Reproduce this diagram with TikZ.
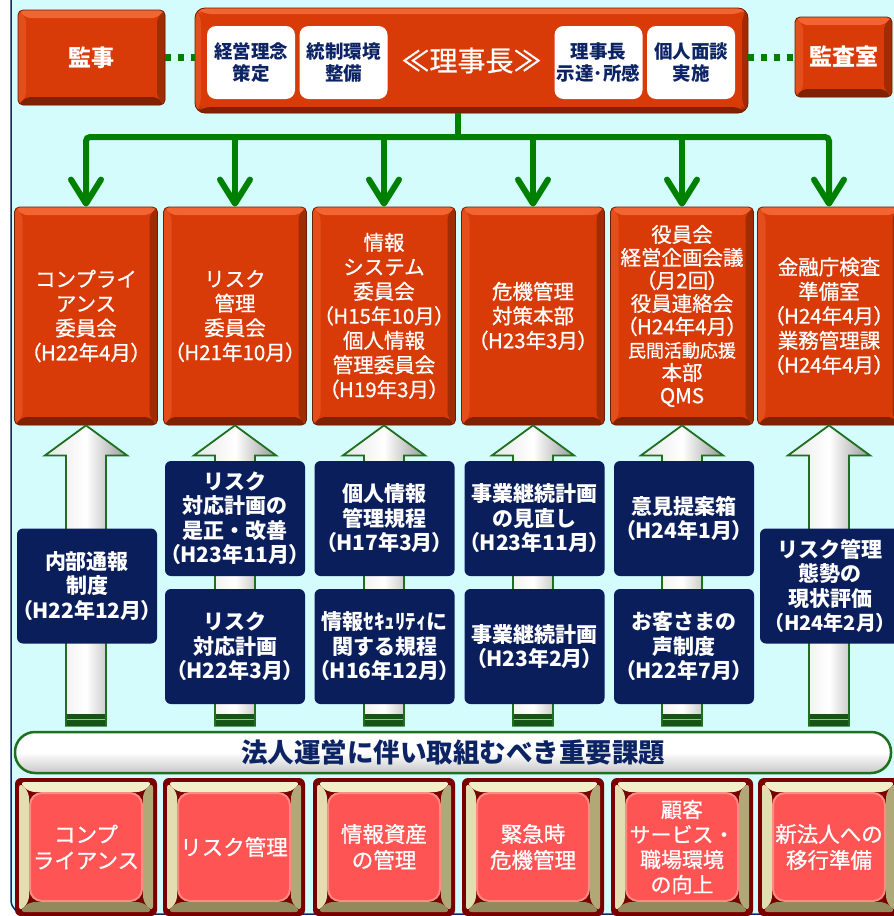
\documentclass[tikz,border=0pt]{standalone}
\usepackage{fontspec}
\setmainfont{Noto Sans CJK JP}
\usetikzlibrary{positioning}
\usetikzlibrary{calc}
\usetikzlibrary{arrows.meta}

\definecolor{bgcyan}{RGB}{212,252,252}
\definecolor{navyline}{RGB}{16,40,110}
\definecolor{orgface}{RGB}{216,58,8}
\definecolor{orglight}{RGB}{242,100,50}
\definecolor{orgside}{RGB}{228,78,28}
\definecolor{orgdark}{RGB}{128,34,0}
\definecolor{orgshade}{RGB}{160,44,4}
\definecolor{orgrim}{RGB}{110,30,0}
\definecolor{navybox}{RGB}{10,30,92}
\definecolor{titlenavy}{RGB}{12,36,100}
\definecolor{linkgreen}{RGB}{0,128,0}
\definecolor{arrgreen}{RGB}{30,112,30}
\definecolor{rimred}{RGB}{122,0,0}
\definecolor{beigelight}{RGB}{242,238,200}
\definecolor{beigeside}{RGB}{226,222,178}
\definecolor{beigedark}{RGB}{146,138,92}
\definecolor{beigeshade}{RGB}{176,168,118}
\definecolor{pinkface}{RGB}{255,84,84}
\definecolor{pinkedge}{RGB}{255,140,130}

% raised frame: outer inset, inner inset, top, left, bottom, right
\newcommand\bevelband[6]{%
  \path (path picture bounding box.north west) coordinate (bvA)
        (path picture bounding box.north east) coordinate (bvB)
        (path picture bounding box.south east) coordinate (bvC)
        (path picture bounding box.south west) coordinate (bvD);
  \fill[#3] ([shift={(#1,-#1)}]bvA) -- ([shift={(-#1,-#1)}]bvB) -- ([shift={(-#2,-#2)}]bvB) -- ([shift={(#2,-#2)}]bvA) -- cycle;
  \fill[#4] ([shift={(#1,-#1)}]bvA) -- ([shift={(#1,#1)}]bvD) -- ([shift={(#2,#2)}]bvD) -- ([shift={(#2,-#2)}]bvA) -- cycle;
  \fill[#5] ([shift={(#1,#1)}]bvD) -- ([shift={(-#1,#1)}]bvC) -- ([shift={(-#2,#2)}]bvC) -- ([shift={(#2,#2)}]bvD) -- cycle;
  \fill[#6] ([shift={(-#1,-#1)}]bvB) -- ([shift={(-#1,#1)}]bvC) -- ([shift={(-#2,#2)}]bvC) -- ([shift={(-#2,-#2)}]bvB) -- cycle;
}
\newcommand\pinkframe{%
  \bevelband{4pt}{14pt}{beigelight}{beigeside}{beigedark}{beigeshade}%
  \fill[pinkface, draw=pinkedge, line width=2pt, rounded corners=12pt]
    ([shift={(15pt,-15pt)}]bvA) rectangle ([shift={(-15pt,15pt)}]bvC);
}
\newcommand\nen[1]{{\addfontfeature{RawFeature=+palt}（#1）}}
\newcommand\heavy{\addfontfeature{FakeBold=0.8}}

\tikzset{
  orgbox/.style = {rounded corners=5pt, fill=orgface, draw=orgrim, line width=0.8pt,
    text=white, align=center, inner sep=0pt, minimum width=143pt, minimum height=218pt,
    font=\heavy\fontsize{20.5}{24.5}\selectfont,
    path picture={\bevelband{0pt}{8pt}{orglight}{orgside}{orgdark}{orgshade}}},
  topbox/.style = {orgbox, minimum width=147pt, minimum height=95pt,
    font=\bfseries\fontsize{23}{26}\selectfont},
  chairbox/.style = {orgbox, rounded corners=10pt, minimum width=553pt, minimum height=105pt,
    font=\heavy\fontsize{28}{30}\selectfont,
    path picture={\bevelband{0pt}{6pt}{orglight}{orgside}{orgdark}{orgshade}}},
  subbox/.style = {fill=white, rounded corners=9pt, text=titlenavy, align=center,
    inner sep=0pt, minimum width=88pt, minimum height=73pt,
    font=\bfseries\fontsize{18.5}{21.5}\selectfont},
  navbox/.style = {fill=navybox, rounded corners=6pt, text=white, align=center,
    inner sep=0pt, minimum width=140pt, minimum height=115pt,
    font=\bfseries\fontsize{21}{24.5}\selectfont},
  pinkbox/.style = {fill=rimred, rounded corners=6pt, text=white, align=center,
    inner sep=0pt, minimum width=142pt, minimum height=138pt,
    font=\heavy\fontsize{21.5}{26}\selectfont, path picture={\pinkframe}},
  banner/.style = {rounded corners=20pt, draw=arrgreen, line width=2.5pt,
    top color=white, bottom color=black!22, middle color=white,
    minimum width=876pt, minimum height=41pt, inner sep=0pt,
    text=titlenavy, font=\bfseries\fontsize{26.5}{30}\selectfont},
  link/.style = {draw=linkgreen, line width=6pt},
  linkarrow/.style = {link, -{Straight Barb[length=24pt, width=30pt, round]}},
  dotlink/.style = {draw=linkgreen, line width=7pt, dash pattern=on 6pt off 7pt},
  uparr/.style = {draw=arrgreen, line width=1.8pt, left color=black!10,
    right color=black!40, middle color=white},
  stripe/.style = {fill=arrgreen!75!black}
}

\begin{document}
\begin{tikzpicture}[x=1pt, y=-1pt]
  \useasboundingbox (0,0) rectangle (894,916);
  \fill[white] (0,0) rectangle (894,916);
  \filldraw[fill=bgcyan, draw=navyline, line width=1.5pt, rounded corners=14pt] (11,-30) rectangle (930,914);

  % top row
  \node [topbox] (auditor) at (91.5,57.5) {監事};
  \node [chairbox] (chair) at (471.5,60.5) {≪理事長≫};
  \node [topbox, minimum width=97pt, minimum height=80pt] (auditoffice) at (843.5,57) {監査室};

  \node [subbox] (policy) at (251,62.5) {経営理念\\策定};
  \node [subbox] (control) at (343.5,62.5) {統制環境\\整備};
  \node [subbox] (message) at (598.5,62.5) {理事長\\示達･所感};
  \node [subbox] (interview) at (691,62.5) {個人面談\\実施};

  \draw [dotlink] (auditor.east) -- (auditor.east -| chair.west);
  \draw [dotlink] (auditoffice.west -| chair.east) -- (auditoffice.west);

  % committees
  \node [orgbox] (comp) at (86,316) {コンプライ\\アンス\\委員会\\\nen{H22年4月}};
  \node [orgbox] (risk) at (235,316) {リスク\\管理\\委員会\\\nen{H21年10月}};
  \node [orgbox] (info) at (384,316) {情報\\システム\\委員会\\\nen{H15年10月}\\個人情報\\管理委員会\\\nen{H19年3月}};
  \node [orgbox] (crisis) at (533,316) {危機管理\\対策本部\\\nen{H23年3月}};
  \node [orgbox, font=\heavy\fontsize{20.5}{23}\selectfont] (board) at (682,316)
    {役員会\\経営企画会議\\\nen{月2回}\\役員連絡会\\\nen{H24年4月}\\{\fontsize{18}{23}\selectfont 民間活動応援}\\本部\\QMS};
  \node [orgbox] (fsa) at (829,316) {金融庁検査\\準備室\\\nen{H24年4月}\\業務管理課\\\nen{H24年4月}};

  \coordinate (hub) at (458,137);
  \draw [link] (hub |- chair.south) -- (hub);
  \draw [linkarrow, rounded corners=4pt] (hub) -| (comp.north);
  \draw [linkarrow, rounded corners=4pt] (hub) -| (fsa.north);
  \draw [linkarrow] (risk.north |- hub) -- (risk.north);
  \draw [linkarrow] (info.north |- hub) -- (info.north);
  \draw [linkarrow] (crisis.north |- hub) -- (crisis.north);
  \draw [linkarrow] (board.north |- hub) -- (board.north);

  \node [banner] (issues) at (453,752.5) {法人運営に伴い取組むべき重要課題};

  \foreach \c in {comp,risk,info,crisis,board,fsa} {
    \path [uparr] ($(\c.south |- issues.north)+(-20,-5)$) -- ($(\c.south)+(-20,30)$)
      -- ($(\c.south)+(-41,30)$) -- (\c.south) -- ($(\c.south)+(41,30)$)
      -- ($(\c.south)+(20,30)$) -- ($(\c.south |- issues.north)+(20,-5)$) -- cycle;
    \fill [stripe] ($(\c.south |- issues.north)+(-19,-17)$) rectangle ($(\c.south |- issues.north)+(19,-5)$);
    \draw [arrgreen!45, line width=1.2pt] ($(\c.south |- issues.north)+(-19,-11)$) -- ($(\c.south |- issues.north)+(19,-11)$);
  }

  % measures
  \node [navbox] (whistle) at (87,586) {内部通報\\制度\\\nen{H22年12月}};
  \node [navbox] (riskfix) at (235,518.5) {リスク\\対応計画の\\是正・改善\\\nen{H23年11月}};
  \node [navbox] (riskplan) at (235,646.5) {リスク\\対応計画\\\nen{H22年3月}};
  \node [navbox] (privacy) at (384.5,518.5) {個人情報\\管理規程\\\nen{H17年3月}};
  \node [navbox] (security) at (384.5,646.5) {情報ｾｷｭﾘﾃｨに\\関する規程\\\nen{H16年12月}};
  \node [navbox] (bcpreview) at (534.5,518.5) {事業継続計画\\の見直し\\\nen{H23年11月}};
  \node [navbox] (bcp) at (534.5,646.5) {事業継続計画\\\nen{H23年2月}};
  \node [navbox] (ideabox) at (684,518.5) {意見提案箱\\\nen{H24年1月}};
  \node [navbox] (voice) at (684,646.5) {お客さまの\\声制度\\\nen{H22年7月}};
  \node [navbox] (riskeval) at (830,586) {リスク管理\\態勢の\\現状評価\\{\fontsize{20}{24.5}\selectfont\nen{H24年2月}}};

  % themes
  \node [pinkbox] (tcomp) at (86,847) {コンプ\\ライアンス};
  \node [pinkbox] (trisk) at (234,847) {リスク管理};
  \node [pinkbox] (tinfo) at (384,847) {情報資産\\の管理};
  \node [pinkbox] (tcrisis) at (533,847) {緊急時\\危機管理};
  \node [pinkbox, font=\heavy\fontsize{21}{25}\selectfont] (tservice) at (682,847) {顧客\\サービス・\\職場環境\\の向上};
  \node [pinkbox] (tmigrate) at (829,847) {新法人への\\移行準備};
\end{tikzpicture}
\end{document}
